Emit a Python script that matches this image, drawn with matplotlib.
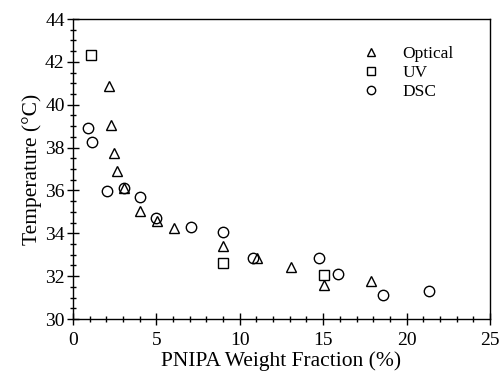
import numpy as np
import matplotlib
matplotlib.use("Agg")
import matplotlib.pyplot as plt
from matplotlib.ticker import MultipleLocator

plt.rcParams['font.family'] = ['Liberation Serif', 'DejaVu Serif']
plt.rcParams['mathtext.fontset'] = 'stix'

# Optical
opt_x = [2.16, 2.28, 2.46, 2.64, 3.06, 4.02, 5.04, 6.06, 9.0, 11.03, 13.07, 15.05, 17.87]
opt_y = [40.86, 39.04, 37.77, 36.93, 36.13, 35.06, 34.59, 34.26, 33.42, 32.86, 32.43, 31.59, 31.78]
# UV
uv_x = [1.08, 9.0, 15.05]
uv_y = [42.31, 32.62, 32.06]
# DSC
dsc_x = [0.9, 1.14, 2.04, 3.06, 4.02, 4.98, 7.07, 9.0, 10.8, 14.75, 15.9, 18.6, 21.35]
dsc_y = [38.9, 38.24, 35.99, 36.1, 35.71, 34.73, 34.31, 34.07, 32.86, 32.86, 32.1, 31.12, 31.31]

fig = plt.figure(figsize=(5.02, 3.78), dpi=100)
ax = fig.add_axes([0.1454, 0.156, 0.976 - 0.1454, 0.9497 - 0.156])

mk = dict(linestyle='none', markerfacecolor='none', markeredgecolor='black',
          markeredgewidth=1.0, markersize=7)
ax.plot(opt_x, opt_y, marker='^', label='Optical', **mk)
ax.plot(uv_x, uv_y, marker='s', label='UV', **dict(mk, markersize=6.5))
ax.plot(dsc_x, dsc_y, marker='o', label='DSC', **dict(mk, markersize=7.5))

ax.set_xlim(0, 25)
ax.set_ylim(30, 44)
ax.xaxis.set_major_locator(MultipleLocator(5))
ax.xaxis.set_minor_locator(MultipleLocator(1))
ax.yaxis.set_major_locator(MultipleLocator(2))
ax.yaxis.set_minor_locator(MultipleLocator(0.5))
ax.tick_params(which='both', direction='inout', top=False, right=False,
               labelsize=14, width=1)
ax.tick_params(which='major', length=8, pad=2)
ax.tick_params(which='minor', length=5)
ax.tick_params(axis='x', which='major', pad=5)
for s in ax.spines.values():
    s.set_linewidth(1.0)

ax.set_xlabel('PNIPA Weight Fraction (%)', fontsize=15.5, labelpad=2)
ax.set_ylabel('Temperature (°C)', fontsize=15.5, labelpad=2)

leg = ax.legend(loc='upper left', bbox_to_anchor=(0.695, 0.91), frameon=False,
                fontsize=12.5, handletextpad=1.27, labelspacing=0.15,
                handlelength=1.0, borderpad=0, borderaxespad=0,
                markerscale=0.8)

fig.savefig('out.png', dpi=100)
